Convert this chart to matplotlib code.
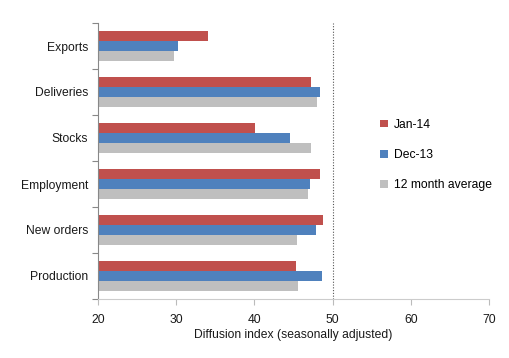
import numpy as np
import matplotlib.pyplot as plt

categories = ['Production', 'New orders', 'Employment', 'Stocks', 'Deliveries', 'Exports']
jan14 = [45.3, 48.8, 48.4, 40.1, 47.3, 34.1]
dec13 = [48.7, 47.9, 47.1, 44.6, 48.4, 30.2]
avg12 = [45.6, 45.5, 46.8, 47.3, 48.0, 29.7]
series_names = ['Jan-14', 'Dec-13', '12 month average']
colors = ['#C0504D', '#4F81BD', '#BFBFBF']
xticks = [20, 30, 40, 50, 60, 70]

plt.rcParams['font.family'] = ['Liberation Sans', 'DejaVu Sans']

fig = plt.figure(figsize=(5.09, 3.58), dpi=100)
ax = fig.add_axes([98 / 509, 1 - 299 / 358, 391 / 509, (299 - 23) / 358])

y = np.arange(len(categories))
h = 0.217
for i, (vals, name, col) in enumerate(zip([jan14, dec13, avg12], series_names, colors)):
    ax.barh(y + (1 - i) * h, np.array(vals) - 20, left=20, height=h,
            color=col, label=name, zorder=2)

ax.axvline(50, color='#555555', linestyle=(0, (1, 1.5)), linewidth=0.8, zorder=1)

ax.set_xlim(20, 70)
ax.set_ylim(-0.5, len(categories) - 0.5)
ax.set_xticks(xticks)
ax.set_yticks(y)
ax.set_yticklabels(categories)
ax.set_yticks(np.arange(-0.5, len(categories)), minor=True)
ax.tick_params(axis='y', which='major', length=0, pad=7, labelsize=8.7, labelcolor='#1a1a1a')
ax.tick_params(axis='y', which='minor', length=4, color='#888888', width=0.8)
ax.tick_params(axis='x', length=4, color='#bbbbbb', width=0.8, labelsize=8.7,
               labelcolor='#1a1a1a', pad=7)
ax.set_xlabel('Diffusion index (seasonally adjusted)', fontsize=8.7, color='#1a1a1a', labelpad=2)

for s in ['top', 'right']:
    ax.spines[s].set_visible(False)
ax.spines['left'].set_color('#888888')
ax.spines['left'].set_linewidth(0.8)
ax.spines['bottom'].set_color('#cccccc')
ax.spines['bottom'].set_linewidth(0.8)

leg = ax.legend(loc='upper left', bbox_to_anchor=(0.71, 0.67), frameon=False,
                fontsize=8.7, handlelength=0.6, handleheight=0.6, handletextpad=0.5,
                labelspacing=1.5, borderaxespad=0)

fig.savefig('out.png', dpi=100)
